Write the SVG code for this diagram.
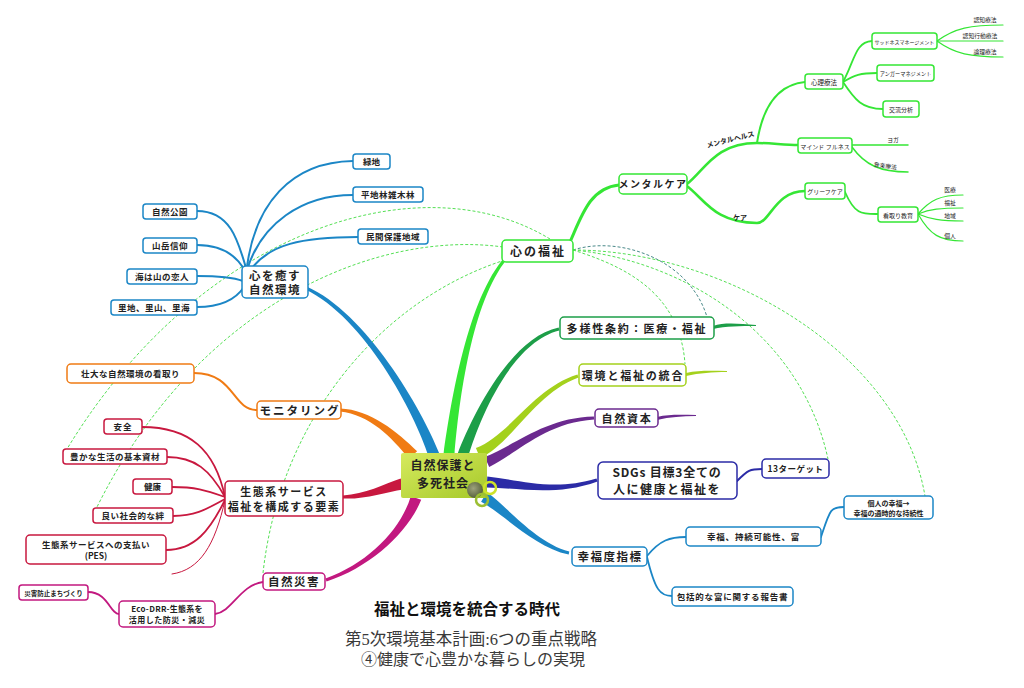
<svg xmlns="http://www.w3.org/2000/svg" width="1024" height="688" viewBox="0 0 1024 688">
<defs>
<linearGradient id="cg" x1="0" y1="0" x2="1" y2="1">
<stop offset="0" stop-color="#d6ea5e"/>
<stop offset="1" stop-color="#a6c92a"/>
</linearGradient>
<radialGradient id="rg" cx="0.4" cy="0.4" r="0.6">
<stop offset="0" stop-color="#9a9a8a"/>
<stop offset="1" stop-color="#4a5040"/>
</radialGradient>
</defs>
<style>
.t{font-family:"Noto Sans CJK JP","Noto Sans",sans-serif;font-weight:bold;fill:#222;text-anchor:middle}
.n{font-weight:normal}
.b{fill:#fff;stroke-width:1.5}
.s{fill:none;stroke-linecap:round}
.dash{fill:none;stroke:#55e055;stroke-width:1;stroke-dasharray:3 2}
.blue{stroke:#1b86c6}.bluef{fill:#1b86c6}
.lg{stroke:#35e635}.lgf{fill:#35e635}
.dg{stroke:#1d9e48}.dgf{fill:#1d9e48}
.yg{stroke:#a4d11c}.ygf{fill:#a4d11c}
.pu{stroke:#6b2a8f}.puf{fill:#6b2a8f}
.nv{stroke:#2b2ba6}.nvf{fill:#2b2ba6}
.mg{stroke:#c2187f}.mgf{fill:#c2187f}
.cr{stroke:#c8183f}.crf{fill:#c8183f}
.or{stroke:#f07b14}.orf{fill:#f07b14}
.sub{font-family:"Liberation Serif","Noto Sans CJK JP",serif;fill:#3a3a3a;text-anchor:middle}
</style>
<rect width="1024" height="688" fill="#fff"/>

<g id="connectors">
<path class="dash" d="M550,239 C420,160 200,230 67,449"/>
<path class="dash" d="M503,247 C380,230 200,300 97,507"/>
<path class="dash" d="M505,260 C380,300 280,420 263,573"/>
<path class="dash" d="M573,250 C620,235 690,260 707,317" style="stroke:#4a8a8a"/>
<path class="dash" d="M573,250 C620,265 680,290 685,364"/>
<path class="dash" d="M573,250 C680,260 800,330 828,459"/>
<path class="dash" d="M573,250 C720,250 900,350 925,496"/>

<path class="bluef" d="M439.2,453.2 C421.8,408.7 366,312.7 306.6,286.6 L305.4,289.4 C364,317.3 414.2,411.3 428.8,456.8 Z"/>
<path class="lgf" d="M454.5,455.6 C459,400.4 471.9,301.6 507.1,259 L504.9,257 C468.1,298.4 451,399.6 443.5,454.4 Z"/>
<path class="dgf" d="M468.2,456.8 C478.8,421.3 510.5,342.4 559.3,330.5 L558.7,327.5 C509.5,337.6 471.2,418.7 457.8,453.2 Z"/>
<path class="ygf" d="M480.1,458.1 C511.5,443.7 535.8,392.4 578.5,377.4 L577.5,374.6 C534.2,387.6 508.5,436.3 475.9,447.9 Z"/>
<path class="puf" d="M489.2,467.1 C516.6,453.7 545.1,422.5 594.1,419.5 L593.9,416.5 C544.9,417.5 513.4,446.3 484.8,456.9 Z"/>
<path class="nvf" d="M486.7,487.5 C519.8,488 555.8,496.4 597.5,481.4 L596.5,478.6 C554.2,491.6 520.2,480 487.3,476.5 Z"/>
<path class="bluef" d="M481.1,501.7 C502.9,513.4 534.4,547.4 568.7,554.5 L569.3,551.5 C535.6,542.6 507.1,506.6 486.9,492.3 Z"/>
<path class="mgf" d="M410.8,496.2 C401.2,528.7 369.2,562.6 325.5,578.6 L326.5,581.4 C370.8,567.4 408.8,531.3 421.2,499.8 Z"/>
<path class="crf" d="M400.7,478.6 C384.1,484.1 365,494.5 343,495.5 L343,498.5 C365,499.5 385.9,491.9 403.3,489.4 Z"/>
<path class="orf" d="M417.1,451.3 C398,432.3 370.2,409.5 340.1,408.5 L339.9,411.5 C369.8,414.5 392,437.7 408.9,458.7 Z"/>

<path class="dgf" d="M713,326 C725,322 740,324 756,325 L756,326 C740,326 726,326 713,329 Z"/>
<path class="ygf" d="M686,373 C700,370 712,371 727,371 L727,372 C712,372 700,373 686,376 Z"/>
<path class="puf" d="M657,417 C670,414 682,415 696,415 L696,416 C682,416 670,417 657,420 Z"/>

<g class="s blue" stroke-width="2">
<path d="M247,267 C255,205 290,162 353,161"/>
<path d="M248,267 C262,225 300,195 353,195"/>
<path d="M252,268 C270,245 300,237 358,237"/>
<path d="M197,211 C230,211 238,240 246,268"/>
<path d="M197,245 C225,245 238,258 245,271"/>
<path d="M197,276 C220,276 235,278 243,281"/>
<path d="M197,307 C225,307 238,296 244,287"/>
</g>
<g class="s blue" stroke-width="1.8">
<path d="M647,556 C660,540 670,537 686,537"/>
<path d="M647,557 C655,590 660,596 672,596"/>
<path d="M821,537 C830,510 830,507 844,507"/>
</g>
<path class="s nv" stroke-width="2" d="M737,481 C748,470 750,469 762,469"/>
<path class="s or" stroke-width="2" d="M194,373 C235,373 232,410 257,410"/>
<g class="s cr" stroke-width="1.8">
<path d="M225,497 C215,450 190,427 142,427"/>
<path d="M225,497 C210,470 195,457 167,457"/>
<path d="M225,497 C205,490 195,487 172,487"/>
<path d="M225,499 C205,510 195,516 173,516"/>
<path d="M225,500 C210,530 195,550 166,550"/>
<path d="M225,500 C215,545 200,570 172,574" stroke-width="1"/>
</g>
<g class="s mg" stroke-width="1.8">
<path d="M263,582 C240,585 232,612 215,614"/>
<path d="M88,592 C108,592 110,614 119,614"/>
</g>
<g class="s lg">
<path stroke-width="3" d="M570,242 C582,215 590,188 619,185"/>
<path stroke-width="2.5" d="M687,184 C705,170 715,143 757,143 C770,143 785,145 798,145"/>
<path stroke-width="2.5" d="M687,186 C705,200 715,223 757,223 C770,223 775,191 805,191"/>
<path stroke-width="2" d="M757,143 C762,110 775,85 805,82"/>
<path stroke-width="1.8" d="M843,82 C855,60 855,42 872,41"/>
<path stroke-width="1.8" d="M843,82 C855,75 860,73 877,73"/>
<path stroke-width="1.8" d="M843,82 C855,100 862,109 883,109"/>
<path stroke-width="1.2" d="M937,41 C955,28 970,25 1003,25"/>
<path stroke-width="1.2" d="M937,41 L1003,41"/>
<path stroke-width="1.2" d="M937,41 C955,54 970,57 1003,57"/>
<path stroke-width="1.5" d="M852,145 L908,145"/>
<path stroke-width="1.5" d="M852,147 C865,165 880,172 908,172"/>
<path stroke-width="1.8" d="M845,192 C855,215 862,214 878,214"/>
<path stroke-width="1.2" d="M918,214 C930,200 940,195 963,195"/>
<path stroke-width="1.2" d="M918,214 C930,209 940,208 963,208"/>
<path stroke-width="1.2" d="M918,214 C930,219 940,221 963,221"/>
<path stroke-width="1.2" d="M918,214 C930,235 940,241 963,241"/>
</g>
</g>

<g id="center">
<rect x="401" y="453" width="86" height="45" rx="2" fill="url(#cg)"/>
<text class="t" x="443" y="470" font-size="12" letter-spacing="1">自然保護と</text>
<text class="t" x="443" y="488" font-size="12" letter-spacing="1">多死社会</text>
<circle cx="475" cy="490" r="8" fill="url(#rg)" opacity="0.85"/>
<circle cx="490" cy="488" r="6" fill="none" stroke="#cde22a" stroke-width="2.5"/>
<circle cx="482" cy="500" r="6" fill="none" stroke="#9cbf34" stroke-width="2.5"/>
</g>

<g id="n-kokoro-iyasu"><rect class="b blue" x="242" y="266" width="66" height="32" rx="4"/><text class="t" x="275" y="280" font-size="11.5" letter-spacing="1.5">心を癒す</text><text class="t" x="275" y="294" font-size="11.5" letter-spacing="1.5">自然環境</text></g>
<g id="n-ryokuchi"><rect class="b blue" x="353" y="154" width="37" height="15" rx="3"/><text class="t" x="371.5" y="165" font-size="8.5">緑地</text></g>
<g id="n-heichirin"><rect class="b blue" x="353" y="187" width="70" height="15" rx="3"/><text class="t" x="388" y="198" font-size="8.5" letter-spacing="0.5">平地林雑木林</text></g>
<g id="n-minkan"><rect class="b blue" x="358" y="229" width="70" height="15" rx="3"/><text class="t" x="393" y="240" font-size="8.5" letter-spacing="0.5">民間保護地域</text></g>
<g id="n-shizenkoen"><rect class="b blue" x="143" y="204" width="54" height="15" rx="3"/><text class="t" x="170" y="215" font-size="8.5" letter-spacing="0.5">自然公園</text></g>
<g id="n-sangaku"><rect class="b blue" x="143" y="238" width="54" height="15" rx="3"/><text class="t" x="170" y="249" font-size="8.5" letter-spacing="0.5">山岳信仰</text></g>
<g id="n-umi"><rect class="b blue" x="127" y="269" width="70" height="15" rx="3"/><text class="t" x="162" y="280" font-size="8.5" letter-spacing="0.5">海は山の恋人</text></g>
<g id="n-satochi"><rect class="b blue" x="111" y="300" width="86" height="15" rx="3"/><text class="t" x="154" y="311" font-size="8.5" letter-spacing="0.5">里地、里山、里海</text></g>

<g id="n-monitoring"><rect class="b or" x="257" y="401" width="84" height="18" rx="4"/><text class="t" x="300" y="414.5" font-size="11.5" letter-spacing="2">モニタリング</text></g>
<g id="n-sodai"><rect class="b or" x="67" y="364" width="127" height="19" rx="4"/><text class="t" x="130.5" y="377" font-size="8.5" letter-spacing="0.5">壮大な自然環境の看取り</text></g>

<g id="n-seitaikei"><rect class="b cr" x="225" y="481" width="118" height="35" rx="4"/><text class="t" x="284" y="496" font-size="11" letter-spacing="1.5">生態系サービス</text><text class="t" x="284" y="511" font-size="11" letter-spacing="1.5">福祉を構成する要素</text></g>
<g id="n-anzen"><rect class="b cr" x="104" y="419" width="38" height="15" rx="3"/><text class="t" x="123" y="430" font-size="8.5" letter-spacing="1">安全</text></g>
<g id="n-yutaka"><rect class="b cr" x="63" y="449" width="104" height="15" rx="3"/><text class="t" x="115" y="460" font-size="8.5" letter-spacing="0.5">豊かな生活の基本資材</text></g>
<g id="n-kenko"><rect class="b cr" x="133" y="479" width="39" height="15" rx="3"/><text class="t" x="152.5" y="490" font-size="8.5">健康</text></g>
<g id="n-yoi"><rect class="b cr" x="93" y="508" width="80" height="15" rx="3"/><text class="t" x="133" y="519" font-size="8.5" letter-spacing="0.5">良い社会的な絆</text></g>
<g id="n-pes"><rect class="b cr" x="26" y="535" width="140" height="29" rx="4"/><text class="t" x="96" y="548" font-size="8.5" letter-spacing="0.5">生態系サービスへの支払い</text><text class="t" x="96" y="559" font-size="8.5">(PES)</text></g>

<g id="n-saigai"><rect class="b mg" x="263" y="573" width="62" height="17" rx="4"/><text class="t" x="294" y="586" font-size="11.5" letter-spacing="1.5">自然災害</text></g>
<g id="n-ecodrr"><rect class="b mg" x="119" y="601" width="96" height="26" rx="4"/><text class="t" x="167" y="612" font-size="8" letter-spacing="0.3">Eco-DRR-生態系を</text><text class="t" x="167" y="623" font-size="8" letter-spacing="0.5">活用した防災・減災</text></g>
<g id="n-bosai"><rect class="b mg" x="19" y="585" width="69" height="15" rx="3"/><text class="t" x="53.5" y="595.5" font-size="6.5">災害防止まちづくり</text></g>

<g id="n-kokoro-fukushi"><rect class="b lg" x="502" y="240" width="71" height="22" rx="4"/><text class="t" x="538" y="256" font-size="12" letter-spacing="2">心の福祉</text></g>
<g id="n-tayosei"><rect class="b dg" x="560" y="317" width="154" height="22" rx="4"/><text class="t" x="637" y="332.5" font-size="11" letter-spacing="1.8">多様性条約：医療・福祉</text></g>
<g id="n-kankyo"><rect class="b yg" x="579" y="364" width="107" height="22" rx="4"/><text class="t" x="633" y="379.5" font-size="11" letter-spacing="1.8">環境と福祉の統合</text></g>
<g id="n-shizenshihon"><rect class="b pu" x="595" y="409" width="63" height="18" rx="4"/><text class="t" x="627" y="422.5" font-size="11" letter-spacing="1.8">自然資本</text></g>
<g id="n-sdgs"><rect class="b nv" x="598" y="462" width="139" height="37" rx="5"/><text class="t" x="667" y="477" font-size="12" letter-spacing="0.8">SDGs 目標3全ての</text><text class="t" x="667" y="494" font-size="12" letter-spacing="1.5">人に健康と福祉を</text></g>
<g id="n-13target"><rect class="b nv" x="762" y="459" width="67" height="19" rx="4"/><text class="t" x="795.5" y="472" font-size="8.5" letter-spacing="0.5">13ターゲット</text></g>
<g id="n-kofukudo"><rect class="b blue" x="572" y="547" width="75" height="19" rx="4"/><text class="t" x="610" y="561" font-size="11.5" letter-spacing="1.5">幸福度指標</text></g>
<g id="n-kofuku-jizoku"><rect class="b blue" x="686" y="527" width="135" height="19" rx="4"/><text class="t" x="753.5" y="540" font-size="8.5" letter-spacing="0.8">幸福、持続可能性、富</text></g>
<g id="n-kojin"><rect class="b blue" x="844" y="496" width="89" height="23" rx="4"/><text class="t" x="888.5" y="506" font-size="7">個人の幸福→</text><text class="t" x="888.5" y="515.5" font-size="7">幸福の通時的な持続性</text></g>
<g id="n-hokatsu"><rect class="b blue" x="672" y="587" width="121" height="19" rx="4"/><text class="t" x="732.5" y="600" font-size="8.5" letter-spacing="0.8">包括的な富に関する報告書</text></g>

<g id="n-mentalcare"><rect class="b lg" x="619" y="174" width="68" height="20" rx="4"/><text class="t" x="653" y="188" font-size="10" letter-spacing="1.5">メンタルケア</text></g>
<g id="l-mentalhealth"><text class="t" x="731" y="142" font-size="7" transform="rotate(-14 731 142)">メンタルヘルス</text></g>
<g id="l-care"><text class="t" x="740" y="220" font-size="7">ケア</text></g>
<g id="n-shinri"><rect class="b lg" x="805" y="74" width="38" height="15" rx="3"/><text class="t n" x="824" y="84.5" font-size="6.5">心理療法</text></g>
<g id="n-sadness"><rect class="b lg" x="872" y="33" width="65" height="16" rx="3"/><text class="t n" x="904.5" y="43.5" font-size="5">サッドネスマネージメント</text></g>
<g id="n-anger"><rect class="b lg" x="877" y="65" width="57" height="16" rx="3"/><text class="t n" x="905.5" y="75.5" font-size="5.2">アンガーマネジメント</text></g>
<g id="n-koryu"><rect class="b lg" x="883" y="101" width="36" height="16" rx="3"/><text class="t n" x="901" y="112" font-size="6">交流分析</text></g>
<g id="l-ninchi"><text class="t n" x="985" y="22" font-size="5.8">認知療法</text></g>
<g id="l-ninchikodo"><text class="t n" x="980" y="38" font-size="5.8">認知行動療法</text></g>
<g id="l-ronri"><text class="t n" x="985" y="54" font-size="5.8">論理療法</text></g>
<g id="n-mindful"><rect class="b lg" x="798" y="138" width="54" height="15" rx="3"/><text class="t n" x="825" y="148.5" font-size="6">マインド フルネス</text></g>
<g id="l-yoga"><text class="t n" x="893" y="142" font-size="5.8">ヨガ</text></g>
<g id="l-ongaku"><text class="t n" x="885" y="168" font-size="5.8" transform="rotate(8 885 168)">音楽療法</text></g>
<g id="n-grief"><rect class="b lg" x="805" y="183" width="40" height="16" rx="3"/><text class="t n" x="825" y="194" font-size="6">グリーフケア</text></g>
<g id="n-mitori"><rect class="b lg" x="878" y="207" width="40" height="15" rx="3"/><text class="t n" x="898" y="217.5" font-size="6">看取り教育</text></g>
<g id="l-iryo"><text class="t n" x="950" y="192" font-size="5.8">医療</text></g>
<g id="l-fukushi"><text class="t n" x="950" y="205" font-size="5.8">福祉</text></g>
<g id="l-chiiki"><text class="t n" x="950" y="218" font-size="5.8">地域</text></g>
<g id="l-kojin"><text class="t n" x="950" y="238" font-size="5.8">個人</text></g>

<g id="title">
<text class="t" x="467" y="615" font-size="15.5" style="fill:#111">福祉と環境を統合する時代</text>
<text class="sub" x="471" y="645" font-size="16.5">第5次環境基本計画:6つの重点戦略</text>
<text class="sub" x="473" y="665" font-size="16">④健康で心豊かな暮らしの実現</text>
</g>
</svg>
